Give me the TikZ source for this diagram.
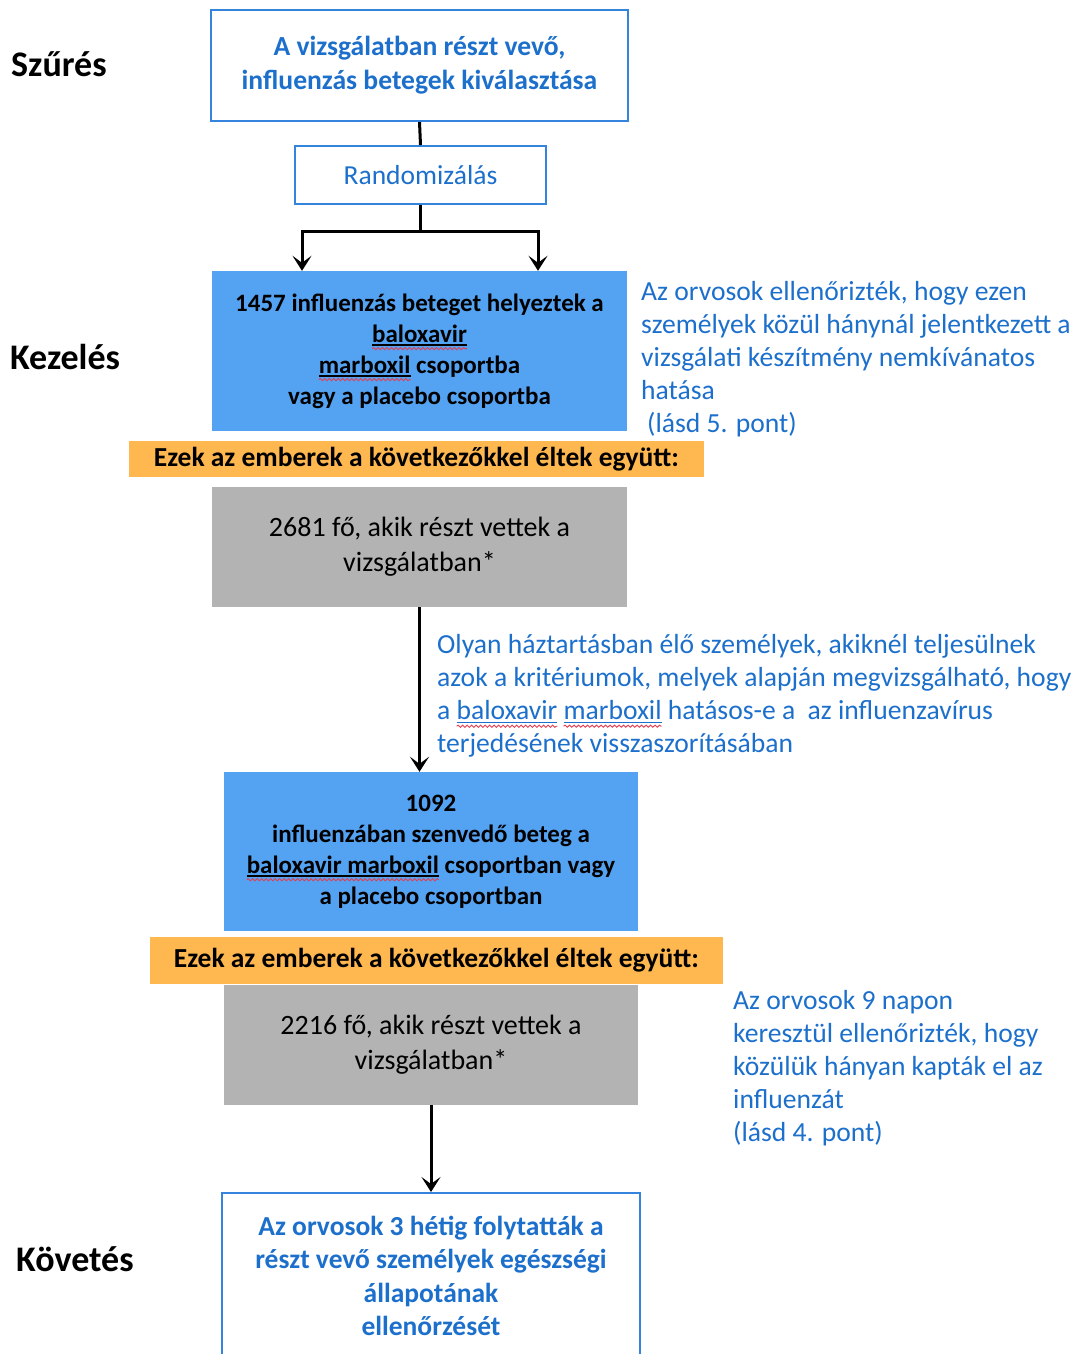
\documentclass[tikz,border=0pt]{standalone}
\usepackage{fontspec}
\setmainfont{Carlito}
\usetikzlibrary{arrows.meta,decorations.pathmorphing}
\definecolor{txtblue}{RGB}{28,112,204}
\definecolor{brdblue}{RGB}{52,132,222}
\definecolor{fillblue}{RGB}{84,162,242}
\definecolor{bandorange}{RGB}{255,184,80}
\definecolor{boxgrey}{RGB}{179,179,179}
\definecolor{wavered}{RGB}{226,64,80}
\newcommand\sperr[2][black]{\tikz[baseline=(w.base),x=1pt,y=1pt]{%
  \node[inner sep=0pt,outer sep=0pt,minimum width=0pt,minimum height=0pt,
        draw=none,fill=none,align=left,anchor=base west,text=#1](w){#2};
  \draw[overlay,#1,line width=1.5pt] ([yshift=-3pt]w.base west) -- ([yshift=-3pt]w.base east);
  \draw[overlay,wavered,line width=0.9pt,decorate,decoration={snake,amplitude=1.1pt,segment length=4.5pt}]
    ([yshift=-6.5pt]w.base west) -- ([yshift=-6.5pt]w.base east);}}
\tikzset{
  every node/.style={inner sep=0pt},
  topbox/.style={draw=brdblue, line width=2pt, fill=white, align=center, text=txtblue,
    font=\fontsize{27.6}{34}\selectfont\bfseries},
  randbox/.style={draw=brdblue, line width=2pt, fill=white, align=center, text=txtblue,
    font=\fontsize{27.5}{33}\selectfont},
  bluebox/.style={fill=fillblue, align=center, text=black,
    font=\fontsize{25}{31}\selectfont\bfseries},
  band/.style={fill=bandorange, align=center, text=black,
    font=\fontsize{27.5}{33}\selectfont\bfseries},
  greybox/.style={fill=boxgrey, align=center, text=black,
    font=\fontsize{28}{35}\selectfont},
  fintext/.style={align=center, text=txtblue, font=\fontsize{27.5}{33.5}\selectfont\bfseries},
  sidetext/.style={align=left, text=txtblue, anchor=west, font=\fontsize{27.6}{33}\selectfont},
  lbl/.style={anchor=west, text=black, font=\fontsize{36}{40}\selectfont\bfseries},
  conn/.style={line width=3pt, draw=black},
  arr/.style={conn, -{Stealth[length=15pt,width=19pt,inset=7pt]}}
}
\begin{document}
\begin{tikzpicture}[x=1pt,y=-1pt]
\useasboundingbox (0,0) rectangle (1077,1354);
\clip (0,0) rectangle (1077,1354);
\fill[white] (0,0) rectangle (1077,1354);

% stage labels
\node[lbl] (l1) at (11,64) {Szűrés};
\node[lbl] (l2) at (10,357) {Kezelés};
\node[lbl] (l3) at (16,1259) {Követés};

% boxes
\node[topbox, minimum width=417pt, minimum height=111pt] (sel) at (419.5,65.5)
  {A vizsgálatban részt vevő,\\influenzás betegek kiválasztása};
\node[randbox, minimum width=251pt, minimum height=58pt] (rand) at (420.5,175) {Randomizálás};
\node[bluebox, minimum width=415pt, minimum height=160pt] (b1) at (419.5,351)
  {1457 influenzás beteget helyeztek a\\\sperr{baloxavir}\\\sperr{marboxil} csoportba\\vagy a placebo csoportba};
\node[band, minimum width=575pt, minimum height=36pt] (o1) at (416.5,459)
  {Ezek az emberek a következőkkel éltek együtt:};
\node[greybox, minimum width=415pt, minimum height=120pt] (g1) at (419.5,547)
  {2681 fő, akik részt vettek a\\vizsgálatban*};
\node[bluebox, minimum width=414pt, minimum height=159pt] (b2) at (431,851.5)
  {1092\\influenzában szenvedő beteg a\\\sperr{baloxavir marboxil} csoportban vagy\\a placebo csoportban};
\node[band, minimum width=573pt, minimum height=47pt] (o2) at (436.5,960.5)
  {Ezek az emberek a következőkkel éltek együtt:};
\node[greybox, minimum width=414pt, minimum height=120pt] (g2) at (431,1045)
  {2216 fő, akik részt vettek a\\vizsgálatban*};
\node[topbox, minimum width=418pt, minimum height=200pt, anchor=north] (fin) at (431,1192) {};
\node[fintext] (fint) at (431,1276)
  {Az orvosok 3 hétig folytatták a\\részt vevő személyek egészségi\\állapotának\\ellenőrzését};

% side texts
\node[sidetext] (t1) at (641,359)
  {Az orvosok ellenőrizték, hogy ezen\\személyek közül hánynál jelentkezett a\\vizsgálati készítmény nemkívánatos\\hatása\\\hspace*{6pt}(lásd 5. pont)};
\node[sidetext] (t2) at (437,696)
  {Olyan háztartásban élő személyek, akiknél teljesülnek\\azok a kritériumok, melyek alapján megvizsgálható, hogy\\a \sperr[txtblue]{baloxavir} \sperr[txtblue]{marboxil} hatásos-e a\ \ az influenzavírus\\terjedésének visszaszorításában};
\node[sidetext] (t3) at (733,1068)
  {Az orvosok 9 napon\\keresztül ellenőrizték, hogy\\közülük hányan kapták el az\\influenzát\\(lásd 4. pont)};

% connectors
\draw[conn] (sel.south) -- (rand.north);
\draw[conn] (rand.south) -- ++(0,26) coordinate (split);
\draw[arr] (split) -| ([xshift=-117.5pt]b1.north);
\draw[arr] (split) -| ([xshift=118.5pt]b1.north);
\draw[arr] (g1.south) -- (g1.south |- b2.north);
\draw[arr] (g2.south) -- (fin.north);
\end{tikzpicture}
\end{document}
